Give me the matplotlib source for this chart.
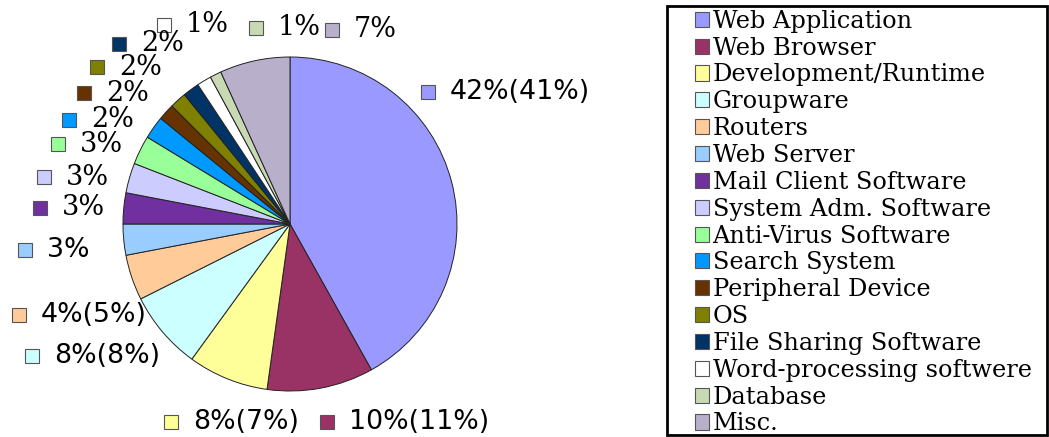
import numpy as np
import matplotlib
matplotlib.use("Agg")
from matplotlib import pyplot as plt
from matplotlib.patches import Rectangle

# data (percent shares, clockwise from 12 o'clock)
categories = ["Web Application", "Web Browser", "Development/Runtime", "Groupware",
              "Routers", "Web Server", "Mail Client Software", "System Adm. Software",
              "Anti-Virus Software", "Search System", "Peripheral Device", "OS",
              "File Sharing Software", "Word-processing softwere", "Database", "Misc."]
shares = [41.9, 10.3, 7.8, 7.6, 4.4, 3.0, 3.0, 2.9, 2.8, 2.2, 1.6, 1.6, 1.6, 1.4, 1.1, 6.8]
label_texts = ["42%(41%)", "10%(11%)", "8%(7%)", "8%(8%)", "4%(5%)", "3%", "3%", "3%",
               "3%", "2%", "2%", "2%", "2%", "1%", "1%", "7%"]

colors = ["#9999FF", "#993366", "#FFFF99", "#CCFFFF", "#FFCC99", "#99CCFF", "#7030A0",
          "#CCCCFF", "#99FF99", "#0099FF", "#663300", "#808000", "#003366", "#FFFFFF",
          "#C9D9B4", "#B8AFCB"]

# label layout (marker centre, in pie radius units) and font per label
label_pos = [(0.826, 0.790), (0.222, -1.186), (-0.713, -1.186), (-1.545, -0.790),
             (-1.623, -0.545), (-1.587, -0.156), (-1.497, 0.096), (-1.473, 0.281),
             (-1.389, 0.479), (-1.323, 0.623), (-1.234, 0.784), (-1.156, 0.940),
             (-1.024, 1.078), (-0.754, 1.192), (-0.204, 1.174), (0.251, 1.162)]
label_font = ["sans"] * 6 + ["serif"] * 10

W, H = 1049, 437
R = 167.0
cx, cy = 290.0, 224.0

fig = plt.figure(figsize=(W / 100, H / 100), dpi=100)
ax = fig.add_axes([0, 0, 660 / W, 1])

wedges, _ = ax.pie(shares, colors=colors, startangle=90, counterclock=False, radius=1,
                   wedgeprops=dict(edgecolor="#222222", linewidth=0.7))
ax.set_aspect("auto")
ax.set_xlim(-cx / R, (660 - cx) / R)
ax.set_ylim((cy - H) / R, cy / R)
ax.axis("off")

for (x, y), txt, c, fnt in zip(label_pos, label_texts, colors, label_font):
    ax.plot([x], [y], marker="s", markersize=10, mfc=c, mec="#555555", mew=0.8,
            clip_on=False)
    if fnt == "sans":
        ax.text(x + 0.132, y, txt, fontsize=19.3, family="DejaVu Sans",
                va="center", ha="left")
    else:
        ax.text(x + 0.132, y, txt, fontsize=19.5, family="DejaVu Serif",
                va="center", ha="left")

# legend box
fig.patches.append(Rectangle((667 / W, 1 - 435 / H), (1047 - 667) / W, (435 - 6) / H,
                             transform=fig.transFigure, fill=False, edgecolor="black",
                             linewidth=2))
leg = fig.legend(wedges, categories, loc="upper left",
                 bbox_to_anchor=(690 / W, 1 - 5 / H), frameon=False,
                 prop=dict(family="DejaVu Serif", size=17.3),
                 handlelength=0.59, handleheight=0.59, handletextpad=0.15,
                 labelspacing=0.16, borderpad=0.2, borderaxespad=0)
for h in leg.legend_handles:
    h.set_edgecolor("#555555")
    h.set_linewidth(0.8)

fig.savefig("out.png", dpi=100)
